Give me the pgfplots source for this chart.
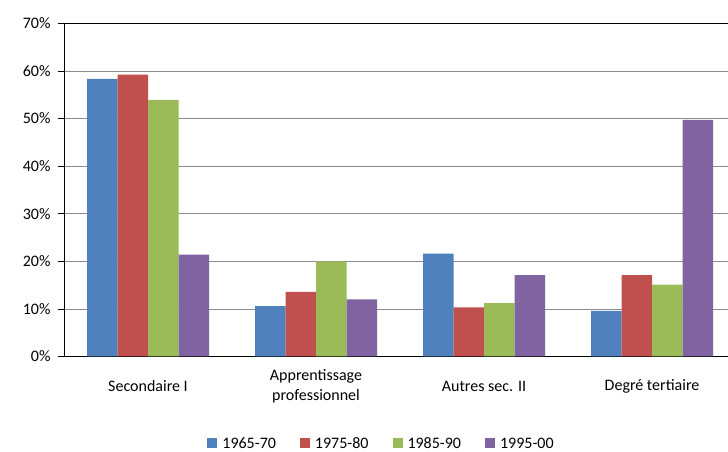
\documentclass[border=0pt]{standalone}
\usepackage{pgfplots}
\pgfplotsset{compat=1.18}
\usepackage{fontspec}
\setmainfont{Carlito}
\definecolor{cA}{HTML}{4F81BD}
\definecolor{cB}{HTML}{C0504D}
\definecolor{cC}{HTML}{9BBB59}
\definecolor{cD}{HTML}{8064A2}
\definecolor{gridc}{HTML}{8C8C8C}
\begin{document}
\begin{tikzpicture}[x=1pt,y=1pt]
\begin{axis}[
  at={(64pt,95.5pt)}, anchor=south west,
  scale only axis, width=672pt, height=333.2pt,
  xmin=-0.5, xmax=3.5, ymin=0, ymax=70,
  ybar=0pt, bar width=30.5pt,
  axis x line*=bottom, axis y line*=left,
  axis line style={black, line width=0.9pt},
  xtick={0,1,2,3},
  xticklabels={Secondaire I, \raisebox{-4pt}{\begin{tabular}{@{}c@{}}Apprentissage\\[1pt]professionnel\end{tabular}}, Autres sec. II, Degré tertiaire},
  x tick style={draw=none},
  minor xtick={-0.5,0.5,1.5,2.5},
  minor x tick style={black, line width=0.6pt},
  minor tick length=6pt,
  xticklabel style={anchor=center, yshift=-24pt, font=\fontsize{16}{19}\selectfont},
  ytick={0,10,...,70},
  yticklabel={\pgfmathprintnumber{\tick}\%},
  yticklabel style={font=\fontsize{16}{20}\selectfont, xshift=-4pt},
  /pgf/number format/assume math mode=true,
  major tick length=6pt,
  tick align=outside,
  y tick style={black, line width=0.6pt},
  ymajorgrids, grid style={gridc, line width=0.7pt},
  legend columns=4,
  legend style={at={(0.4725,-0.2626)}, anchor=center, draw=none, fill=none,
    font=\fontsize{16}{20}\selectfont,
    /tikz/every odd column/.append style={column sep=3pt},
    /tikz/every even column/.append style={column sep=22pt}},
  legend image code/.code={\fill[#1] (0pt,-4pt) rectangle (10pt,6pt);},
]
\addplot[fill=cA, draw=none] coordinates {(0,58.3) (1,10.6) (2,21.6) (3,9.6)};
\addplot[fill=cB, draw=none] coordinates {(0,59.2) (1,13.6) (2,10.3) (3,17.1)};
\addplot[fill=cC, draw=none] coordinates {(0,53.9) (1,20.0) (2,11.2) (3,15.1)};
\addplot[fill=cD, draw=none] coordinates {(0,21.4) (1,12.0) (2,17.1) (3,49.7)};
\draw[black, line width=0.9pt] (axis cs:-0.5,70) -- (axis cs:3.5,70);
\legend{1965-70, 1975-80, 1985-90, 1995-00}
\end{axis}
\pgfresetboundingbox
\path (0,0) rectangle (728,452);
\end{tikzpicture}
\end{document}
